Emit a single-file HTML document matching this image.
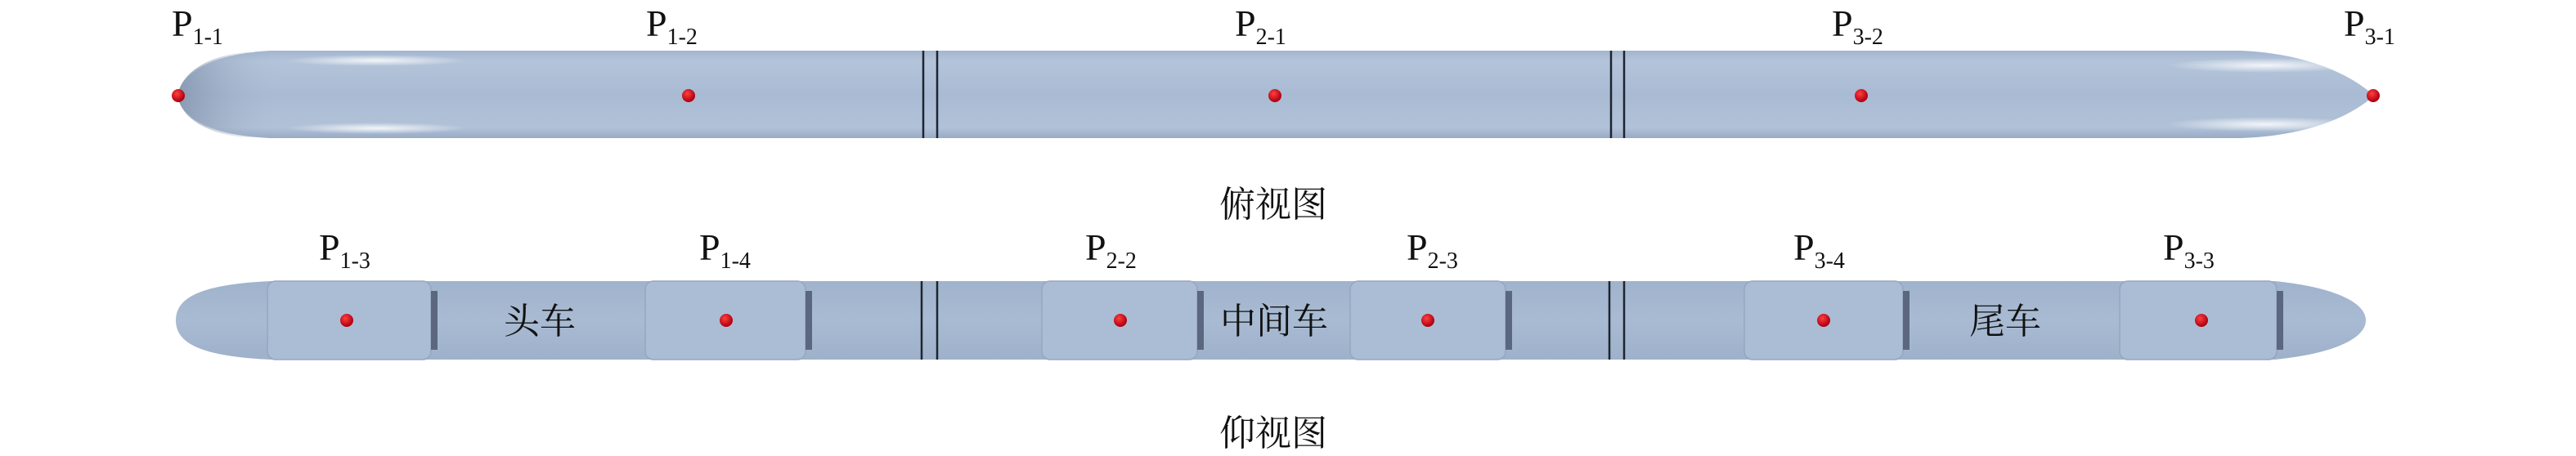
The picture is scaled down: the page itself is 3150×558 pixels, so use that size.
<!DOCTYPE html>
<html><head><meta charset="utf-8"><style>
html,body{margin:0;padding:0;background:#fff;}
svg{display:block;}
.lb{font-family:"Liberation Serif","Noto Serif CJK SC",serif;fill:#111;}
</style></head><body>
<svg width="3150" height="558" viewBox="0 0 3150 558" xmlns="http://www.w3.org/2000/svg">
<defs>
<linearGradient id="gt" x1="0" y1="0" x2="0" y2="1">
<stop offset="0" stop-color="#a3b5cf"/><stop offset="0.12" stop-color="#b3c4da"/>
<stop offset="0.5" stop-color="#a9bbd3"/><stop offset="0.88" stop-color="#b1c2d8"/><stop offset="1" stop-color="#98abc5"/>
</linearGradient>
<linearGradient id="gb" x1="0" y1="0" x2="0" y2="1">
<stop offset="0" stop-color="#a0b3cc"/><stop offset="0.5" stop-color="#a9bbd3"/><stop offset="1" stop-color="#9eb1ca"/>
</linearGradient>
<radialGradient id="rd" cx="0.4" cy="0.35" r="0.6">
<stop offset="0" stop-color="#ff4040"/><stop offset="1" stop-color="#b00010"/>
</radialGradient>
<linearGradient id="nl" x1="0" y1="0" x2="1" y2="0">
<stop offset="0" stop-color="#7a8ba3"/><stop offset="1" stop-color="#a7b9d2" stop-opacity="0"/>
</linearGradient>
<radialGradient id="hl" cx="0.5" cy="0.5" r="0.5">
<stop offset="0" stop-color="#fff" stop-opacity="0.85"/><stop offset="1" stop-color="#fff" stop-opacity="0"/>
</radialGradient>
</defs>

<!-- TOP TRAIN -->
<path d="M217,117 C222,88 260,66 330,62 L2740,62 C2830,66 2880,96 2903,117 C2880,138 2830,166 2740,169 L330,169 C260,166 222,146 217,117 Z" fill="url(#gt)"/>
<path d="M217,117 C222,88 255,68 300,64 L340,64 L340,168 L300,168 C255,164 222,146 217,117 Z" fill="url(#nl)" opacity="0.7"/>
<ellipse cx="460" cy="74" rx="110" ry="7" fill="url(#hl)"/>
<ellipse cx="460" cy="157" rx="110" ry="7" fill="url(#hl)"/>
<ellipse cx="2770" cy="80" rx="120" ry="9" fill="url(#hl)"/>
<ellipse cx="2770" cy="152" rx="120" ry="9" fill="url(#hl)"/>
<g stroke="#1e2430" stroke-width="2.5">
<line x1="1129" y1="62" x2="1129" y2="169"/><line x1="1146" y1="62" x2="1146" y2="169"/>
<line x1="1970" y1="62" x2="1970" y2="169"/><line x1="1986" y1="62" x2="1986" y2="169"/>
</g>
<g fill="url(#rd)">
<circle cx="218" cy="117" r="8"/><circle cx="842" cy="117" r="8"/><circle cx="1559" cy="117" r="8"/>
<circle cx="2276" cy="117" r="8"/><circle cx="2902" cy="117" r="8"/>
</g>

<!-- BOTTOM TRAIN -->
<path d="M215,392 C215,362 250,348 330,344 L2782,344 C2860,352 2893,372 2893,392 C2893,412 2860,432 2782,440 L330,440 C250,436 215,422 215,392 Z" fill="url(#gb)"/>
<g fill="#abbdd5" stroke="#95a7c0" stroke-width="1.5">
<rect x="327" y="344" width="200" height="96" rx="10"/>
<rect x="789" y="344" width="196" height="96" rx="10"/>
<rect x="1274" y="344" width="190" height="96" rx="10"/>
<rect x="1651" y="344" width="190" height="96" rx="10"/>
<rect x="2133" y="344" width="194" height="96" rx="10"/>
<rect x="2592" y="344" width="192" height="96" rx="10"/>
</g>
<g fill="#5a677e">
<rect x="527" y="356" width="8" height="72"/><rect x="985" y="356" width="8" height="72"/>
<rect x="1464" y="356" width="8" height="72"/><rect x="1841" y="356" width="8" height="72"/>
<rect x="2327" y="356" width="8" height="72"/><rect x="2784" y="356" width="8" height="72"/>
</g>
<g stroke="#1e2430" stroke-width="2.5">
<line x1="1127" y1="344" x2="1127" y2="440"/><line x1="1146" y1="344" x2="1146" y2="440"/>
<line x1="1968" y1="344" x2="1968" y2="440"/><line x1="1986" y1="344" x2="1986" y2="440"/>
</g>
<g fill="url(#rd)">
<circle cx="424" cy="392" r="8"/><circle cx="888" cy="392" r="8"/><circle cx="1370" cy="392" r="8"/>
<circle cx="1746" cy="392" r="8"/><circle cx="2230" cy="392" r="8"/><circle cx="2692" cy="392" r="8"/>
</g>

<!-- LABELS -->
<g class="lb" font-size="46">
<text x="210" y="44">P<tspan font-size="28" dy="10">1-1</tspan></text>
<text x="790" y="44">P<tspan font-size="28" dy="10">1-2</tspan></text>
<text x="1510" y="44">P<tspan font-size="28" dy="10">2-1</tspan></text>
<text x="2240" y="44">P<tspan font-size="28" dy="10">3-2</tspan></text>
<text x="2866" y="44">P<tspan font-size="28" dy="10">3-1</tspan></text>
<text x="390" y="318">P<tspan font-size="28" dy="10">1-3</tspan></text>
<text x="855" y="318">P<tspan font-size="28" dy="10">1-4</tspan></text>
<text x="1327" y="318">P<tspan font-size="28" dy="10">2-2</tspan></text>
<text x="1720" y="318">P<tspan font-size="28" dy="10">2-3</tspan></text>
<text x="2193" y="318">P<tspan font-size="28" dy="10">3-4</tspan></text>
<text x="2645" y="318">P<tspan font-size="28" dy="10">3-3</tspan></text>
</g>
<g class="lb" font-size="44" text-anchor="middle">
<text x="660" y="408">头车</text>
<text x="1558" y="408">中间车</text>
<text x="2452" y="408">尾车</text>
<text x="1557" y="265">俯视图</text>
<text x="1557" y="545">仰视图</text>
</g>
</svg>
</body></html>
